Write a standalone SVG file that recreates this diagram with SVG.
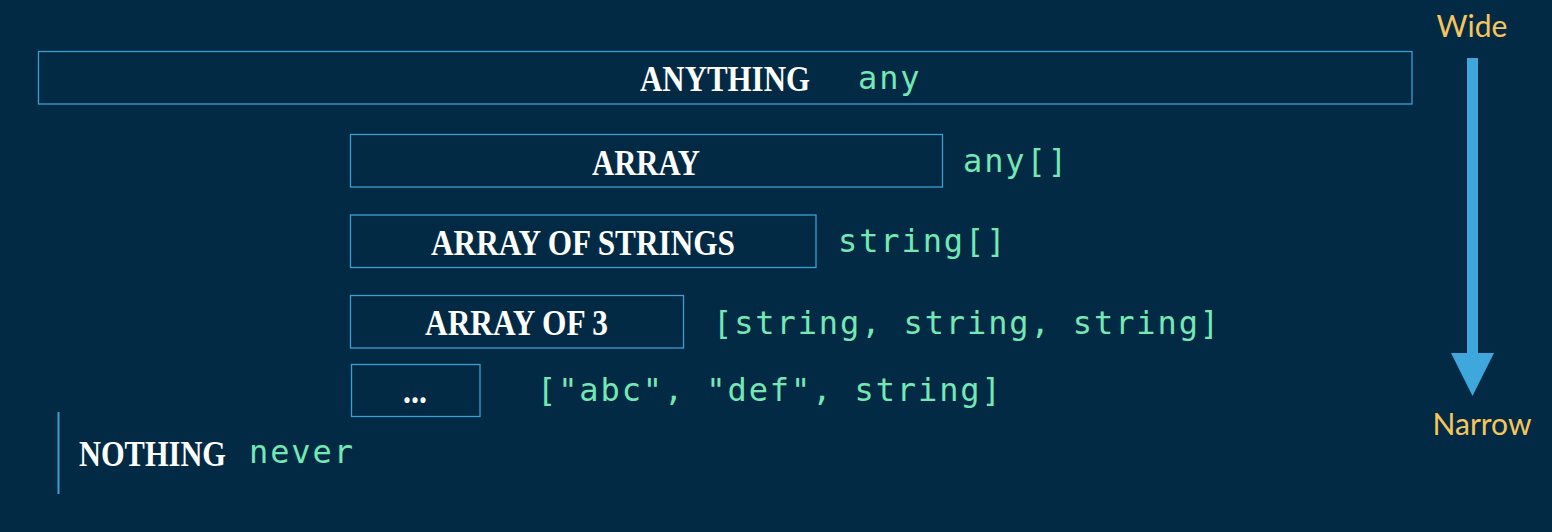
<svg xmlns="http://www.w3.org/2000/svg" width="1552" height="532" viewBox="0 0 1552 532">
<style>
.box{fill:none;stroke:#3d9fd1;stroke-width:1.3}
.lbl{font-family:"Liberation Serif",serif;font-weight:bold;font-size:36px;fill:#ffffff}
.code{font-family:"DejaVu Sans Mono",monospace;font-size:32px;fill:#74e8b4;letter-spacing:1.9px}
.axis{font-family:Lato,"Noto Sans",sans-serif;font-size:30px;fill:#f6c65c}
</style>
<rect width="1552" height="532" fill="#032a45"/>
<g id="anything">
<rect class="box" x="38.5" y="51.5" width="1373.5" height="52.5"/>
<text class="lbl" x="640" y="91" textLength="170" lengthAdjust="spacingAndGlyphs">ANYTHING</text>
<text class="code" x="858" y="89">any</text>
</g>
<g id="array">
<rect class="box" x="350.5" y="134.5" width="592" height="52.5"/>
<text class="lbl" x="592" y="175" textLength="108" lengthAdjust="spacingAndGlyphs">ARRAY</text>
<text class="code" x="963" y="172">any[]</text>
</g>
<g id="array-of-strings">
<rect class="box" x="350.5" y="215" width="465.5" height="52.5"/>
<text class="lbl" x="431" y="255" textLength="304" lengthAdjust="spacingAndGlyphs">ARRAY OF STRINGS</text>
<text class="code" x="838" y="252">string[]</text>
</g>
<g id="array-of-3">
<rect class="box" x="350.5" y="295.5" width="333" height="52.5"/>
<text class="lbl" x="425" y="335" textLength="183" lengthAdjust="spacingAndGlyphs">ARRAY OF 3</text>
<text class="code" x="713" y="334">[string, string, string]</text>
</g>
<g id="tuple">
<rect class="box" x="351.5" y="364.5" width="128.5" height="52"/>
<text class="lbl" x="403" y="403" textLength="24" lengthAdjust="spacingAndGlyphs">...</text>
<text class="code" x="537" y="401">["abc", "def", string]</text>
</g>
<g id="nothing">
<line x1="58.5" y1="412" x2="58.5" y2="494" stroke="#3d9fd1" stroke-width="2"/>
<text class="lbl" x="79" y="466" textLength="147" lengthAdjust="spacingAndGlyphs">NOTHING</text>
<text class="code" x="249" y="463">never</text>
</g>
<g id="connectors">
<rect x="1467" y="58" width="11" height="296" fill="#3ea8dc"/>
<polygon points="1451,353 1494,353 1472.5,396" fill="#3ea8dc"/>
</g>
<g id="labels">
<text class="axis" x="1472" y="37" text-anchor="middle">Wide</text>
<text class="axis" x="1482" y="435" text-anchor="middle">Narrow</text>
</g>
</svg>
